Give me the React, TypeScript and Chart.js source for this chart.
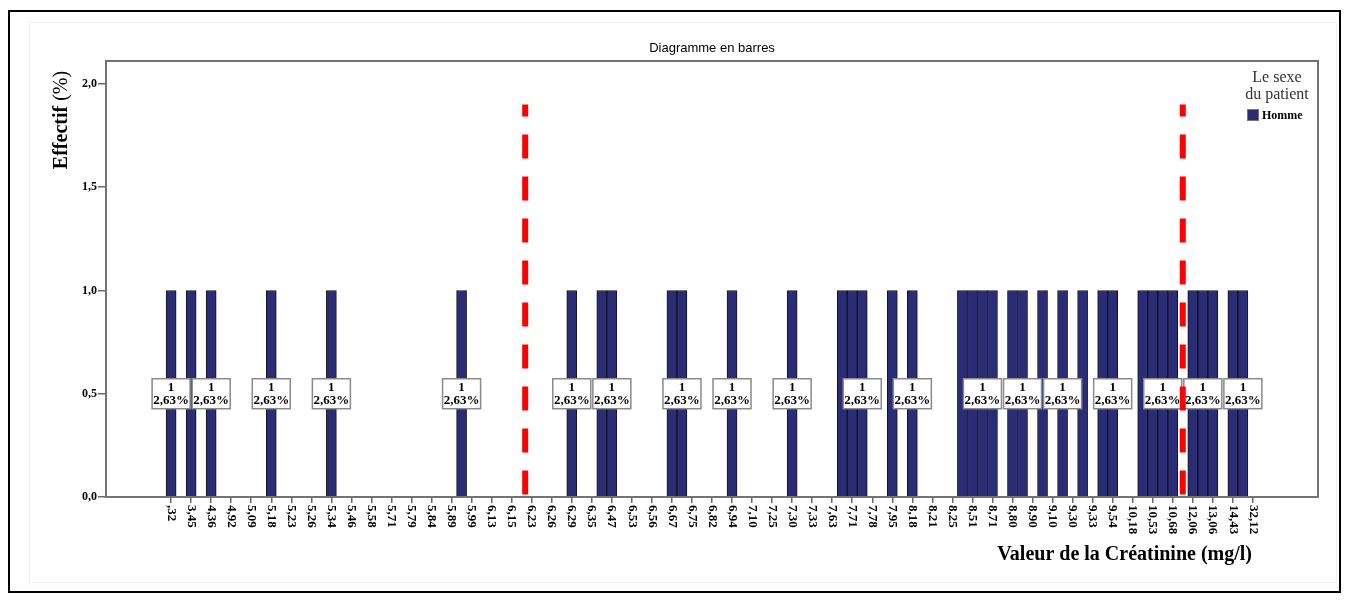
import React, { useEffect, useRef } from "react";
import { Chart, registerables } from "chart.js";

Chart.register(...registerables);

// ---------- data ----------
const chartTitle = "Diagramme en barres";
const xAxisTitle = "Valeur de la Créatinine (mg/l)";
const yAxisTitleMain = "Effectif";
const yAxisTitleUnit = " (%)";
const legendTitle = ["Le sexe", "du patient"];
const seriesName = "Homme";

// visible tick labels (every other category is labelled)
const tickLabels = [
  ",32", "3,45", "4,36", "4,92", "5,09", "5,18", "5,23", "5,26", "5,34", "5,46",
  "5,58", "5,71", "5,79", "5,84", "5,89", "5,99", "6,13", "6,15", "6,23", "6,26",
  "6,29", "6,35", "6,47", "6,53", "6,56", "6,67", "6,75", "6,82", "6,94", "7,10",
  "7,25", "7,30", "7,33", "7,63", "7,71", "7,78", "7,95", "8,18", "8,21", "8,25",
  "8,51", "8,71", "8,80", "8,90", "9,10", "9,30", "9,33", "9,54", "10,18", "10,53",
  "10,68", "12,06", "13,06", "14,43", "32,12",
];

// count of "Homme" patients per category (109 categories)
const hommeCounts = [
  1, 0, 1, 0, 1, 0, 0, 0, 0, 0,
  1, 0, 0, 0, 0, 0, 1, 0, 0, 0,
  0, 0, 0, 0, 0, 0, 0, 0, 0, 1,
  0, 0, 0, 0, 0, 0, 0, 0, 0, 0,
  1, 0, 0, 1, 1, 0, 0, 0, 0, 0,
  1, 1, 0, 0, 0, 0, 1, 0, 0, 0,
  0, 0, 1, 0, 0, 0, 0, 1, 1, 1,
  0, 0, 1, 0, 1, 0, 0, 0, 0, 1,
  1, 1, 1, 0, 1, 1, 0, 1, 0, 1,
  0, 1, 0, 1, 1, 0, 0, 1, 1, 1,
  1, 0, 1, 1, 1, 0, 1, 1, 0,
];

const yTicks = [0, 0.5, 1, 1.5, 2];
const yAxisMax = 2.111;
// red dashed reference lines (category position) and their top value
const referenceLines = [35.35, 101];
const referenceLineTop = 1.9;

// ---------- derived ----------
const categories = hommeCounts.map((_, i) => (i % 2 === 0 ? tickLabels[i / 2] : ""));
const total = hommeCounts.reduce((a, b) => a + b, 0);
const barData = hommeCounts
  .map((v, i) => ({ x: i, y: v }))
  .filter((p) => p.y > 0);

const SERIF = '"Liberation Serif", "Times New Roman", serif';
const SANS = '"Liberation Sans", Arial, sans-serif';
const BAR_COLOR = "#2a2c76";

const decorPlugin = {
  id: "decor",
  beforeDraw(chart: any) {
    const { ctx, width, height } = chart;
    ctx.save();
    ctx.fillStyle = "#ffffff";
    ctx.fillRect(0, 0, width, height);
    ctx.strokeStyle = "#efefef";
    ctx.lineWidth = 1;
    ctx.strokeRect(29.5, 22.5, 1307, 560);
    ctx.strokeStyle = "#000000";
    ctx.lineWidth = 2;
    ctx.strokeRect(9, 11, 1331, 581);
    ctx.restore();
  },
  afterDatasetsDraw(chart: any) {
    const { ctx, chartArea } = chart;
    const xs = chart.scales.x;
    const ys = chart.scales.y;
    ctx.save();
    // plot frame
    ctx.strokeStyle = "#737373";
    ctx.lineWidth = 2;
    ctx.strokeRect(chartArea.left, chartArea.top, chartArea.right - chartArea.left, chartArea.bottom - chartArea.top);

    // value labels, placed right-to-left avoiding overlaps
    const meta = chart.getDatasetMeta(0);
    const values = chart.data.datasets[0].data as any[];
    const W = 38;
    const H = 30;
    let lastLeft = Infinity;
    const chosen: { x: number; v: number }[] = [];
    for (let i = meta.data.length - 1; i >= 0; i--) {
      const el = meta.data[i];
      const v = values[i].y;
      if (el.x + W / 2 > lastLeft) continue;
      chosen.push({ x: el.x, v });
      lastLeft = el.x - W / 2;
    }
    chosen.forEach(({ x, v }) => {
      const cy = ys.getPixelForValue(v / 2);
      ctx.fillStyle = "#ffffff";
      ctx.fillRect(x - W / 2, cy - H / 2, W, H);
      ctx.strokeStyle = "#8a8a8a";
      ctx.lineWidth = 1.5;
      ctx.strokeRect(x - W / 2, cy - H / 2, W, H);
      ctx.fillStyle = "#000";
      ctx.font = `bold 13px ${SERIF}`;
      ctx.textAlign = "center";
      ctx.textBaseline = "middle";
      ctx.fillText(String(v), x, cy - 6);
      const pct = ((v / total) * 100).toFixed(2).replace(".", ",") + "%";
      ctx.fillText(pct, x, cy + 6.5);
    });

    // red dashed reference lines
    ctx.strokeStyle = "#ff0000";
    ctx.lineWidth = 6;
    ctx.setLineDash([24, 18]);
    ctx.lineDashOffset = 12;
    referenceLines.forEach((r) => {
      const x = xs.getPixelForValue(r);
      ctx.beginPath();
      ctx.moveTo(x, ys.getPixelForValue(referenceLineTop));
      ctx.lineTo(x, ys.getPixelForValue(0));
      ctx.stroke();
    });
    ctx.restore();
  },
  afterDraw(chart: any) {
    const { ctx, chartArea } = chart;
    const xs = chart.scales.x;
    ctx.save();
    ctx.fillStyle = "#000";
    // chart title
    ctx.font = `13px ${SANS}`;
    ctx.textAlign = "center";
    ctx.textBaseline = "middle";
    ctx.fillText(chartTitle, (chartArea.left + chartArea.right) / 2, 48);

    // y axis title
    ctx.save();
    ctx.translate(62, 120);
    ctx.rotate(-Math.PI / 2);
    ctx.font = `bold 20px ${SERIF}`;
    const w1 = ctx.measureText(yAxisTitleMain).width;
    ctx.font = `20px ${SERIF}`;
    const w2 = ctx.measureText(yAxisTitleUnit).width;
    ctx.textAlign = "left";
    ctx.textBaseline = "middle";
    ctx.font = `bold 20px ${SERIF}`;
    ctx.fillText(yAxisTitleMain, -(w1 + w2) / 2, 0);
    ctx.font = `20px ${SERIF}`;
    ctx.fillText(yAxisTitleUnit, -(w1 + w2) / 2 + w1, 0);
    ctx.restore();

    // x tick labels, rotated clockwise
    ctx.font = `bold 13px ${SERIF}`;
    categories.forEach((lab, i) => {
      if (!lab) return;
      const x = xs.getPixelForValue(i);
      ctx.save();
      ctx.translate(x, chartArea.bottom + 8);
      ctx.rotate(Math.PI / 2);
      ctx.textAlign = "left";
      ctx.textBaseline = "middle";
      ctx.fillText(lab, 0, 0);
      ctx.restore();
    });

    // x axis title
    ctx.font = `bold 20px ${SERIF}`;
    ctx.textAlign = "right";
    ctx.textBaseline = "middle";
    ctx.fillText(xAxisTitle, 1252, 555);

    // legend
    ctx.fillStyle = "#333";
    ctx.font = `16px ${SERIF}`;
    ctx.textAlign = "center";
    ctx.fillText(legendTitle[0], 1277, 78);
    ctx.fillText(legendTitle[1], 1277, 95);
    ctx.fillStyle = BAR_COLOR;
    ctx.fillRect(1247, 109, 12, 12);
    ctx.strokeStyle = "#777";
    ctx.lineWidth = 1;
    ctx.strokeRect(1247.5, 109.5, 11, 11);
    ctx.fillStyle = "#000";
    ctx.font = `bold 12px ${SERIF}`;
    ctx.textAlign = "left";
    ctx.fillText(seriesName, 1262, 116);
    ctx.restore();
  },
};

export default function App() {
  const ref = useRef<HTMLCanvasElement>(null);
  useEffect(() => {
    if (!ref.current) return;
    const chart = new Chart(ref.current, {
      type: "bar",
      data: {
        datasets: [
          {
            label: seriesName,
            data: barData as any,
            backgroundColor: BAR_COLOR,
            borderColor: "#151515",
            borderWidth: 1,
            barPercentage: 1,
            categoryPercentage: 1,
          },
        ],
      },
      options: {
        responsive: false,
        animation: false,
        devicePixelRatio: 1,
        layout: { padding: { left: 82, top: 61, right: 30, bottom: 101 } },
        plugins: {
          legend: { display: false },
          title: { display: false },
          tooltip: { enabled: true },
        },
        scales: {
          x: {
            type: "linear",
            min: -6.5,
            max: hommeCounts.length - 1 + 6.5,
            offset: false,
            afterBuildTicks: (s: any) => {
              s.ticks = categories
                .map((c, i) => ({ c, value: i }))
                .filter((t) => t.c !== "")
                .map((t) => ({ value: t.value }));
            },
            afterFit: (s: any) => {
              s.height = 6;
            },
            ticks: { display: false },
            grid: {
              offset: false,
              drawOnChartArea: false,
              drawTicks: true,
              tickLength: 6,
              color: "#6b6b6b",
              lineWidth: 1.5,
            },
            border: { display: false },
          },
          y: {
            type: "linear",
            min: 0,
            max: yAxisMax,
            afterBuildTicks: (s: any) => {
              s.ticks = yTicks.map((v) => ({ value: v }));
            },
            afterFit: (s: any) => {
              s.width = 24;
            },
            ticks: {
              color: "#000",
              padding: 1,
              font: { family: SERIF, size: 12, weight: "bold" },
              callback: (v: any) => Number(v).toFixed(1).replace(".", ","),
            },
            grid: {
              drawOnChartArea: false,
              drawTicks: true,
              tickLength: 8,
              color: "#6b6b6b",
              lineWidth: 1.5,
            },
            border: { display: false },
          },
        },
      } as any,
      plugins: [decorPlugin],
    });
    return () => chart.destroy();
  }, []);
  return (
    <div style={{ position: "absolute", left: 0, top: 0, width: 1348, height: 604, background: "#fff" }}>
      <canvas ref={ref} width={1348} height={604} style={{ display: "block" }} />
    </div>
  );
}
